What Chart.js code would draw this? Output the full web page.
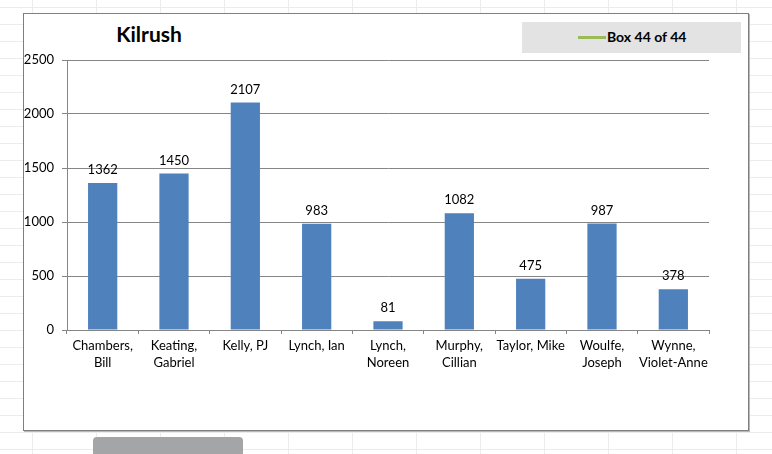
<!DOCTYPE html>
<html>
<head>
<meta charset="utf-8">
<script src="https://cdn.jsdelivr.net/npm/chart.js@4"></script>
<style>
  html, body {
    margin: 0;
    padding: 0;
    width: 772px;
    height: 454px;
    overflow: hidden;
    font-family: Lato, "Liberation Sans", sans-serif;
    background-color: #fff;
    background-image:
      linear-gradient(to right, #ececec 1px, transparent 1px),
      linear-gradient(to bottom, #ececec 1px, transparent 1px);
    background-size: 64px 17px;
    background-position: 32px 7px;
  }
  .frame {
    position: absolute;
    left: 23px;
    top: 13px;
    width: 724px;
    height: 416px;
    background: #fff;
    border: 1px solid #7f7f7f;
    box-shadow: 1px 1px 0 #b8b8b8;
  }
  .title {
    position: absolute;
    left: 99px;
    width: 100px;
    top: 20px;
    text-align: center;
    font-weight: bold;
    font-size: 21px;
    line-height: 28px;
    color: #000;
  }
  .legend {
    position: absolute;
    left: 522px;
    top: 22px;
    width: 219px;
    height: 31px;
    background: #e3e3e3;
  }
  .legend .swatch {
    position: absolute;
    left: 56px;
    top: 14px;
    width: 28px;
    height: 3px;
    background: #9bbb59;
  }
  .legend .label {
    position: absolute;
    left: 85px;
    top: 6px;
    font-weight: bold;
    font-size: 14px;
    line-height: 18px;
    color: #000;
  }
  .button {
    position: absolute;
    left: 93px;
    top: 437px;
    width: 150px;
    height: 24px;
    background: #a3a5a7;
    border-radius: 4px;
  }
  canvas {
    position: absolute;
    left: 0;
    top: 0;
  }
</style>
</head>
<body>
<div class="frame"></div>
<div class="title">Kilrush</div>
<div class="legend"><div class="swatch"></div><div class="label">Box 44 of 44</div></div>
<div class="button"></div>
<canvas id="chart" width="772" height="454"></canvas>
<script>
const CANDIDATES = [
  ["Chambers,", "Bill"],
  ["Keating,", "Gabriel"],
  "Kelly, PJ",
  "Lynch, Ian",
  ["Lynch,", "Noreen"],
  ["Murphy,", "Cillian"],
  "Taylor, Mike",
  ["Woulfe,", "Joseph"],
  ["Wynne,", "Violet-Anne"],
];

const VOTES = [1362, 1450, 2107, 983, 81, 1082, 475, 987, 378];

const Y_TICKS = [0, 500, 1000, 1500, 2000, 2500];

const AXIS_GREY = "#868686";
const BAR_BLUE = "#4f81bd";
const FONT = "Lato, 'Liberation Sans', sans-serif";

Chart.defaults.font.family = FONT;
Chart.defaults.font.size = 13;
Chart.defaults.color = "#000";

// numbers above each bar
const valueLabels = {
  id: "valueLabels",
  afterDatasetsDraw(chart) {
    const ctx = chart.ctx;
    const meta = chart.getDatasetMeta(0);
    ctx.save();
    ctx.font = "13px " + FONT;
    ctx.fillStyle = "#000";
    ctx.textAlign = "center";
    ctx.textBaseline = "middle";
    meta.data.forEach((bar, i) => {
      ctx.fillText(String(VOTES[i]), bar.x, bar.y - 13);
    });
    ctx.restore();
  },
};

new Chart(document.getElementById("chart").getContext("2d"), {
  type: "bar",
  data: {
    labels: CANDIDATES,
    datasets: [
      {
        label: "Box 44 of 44",
        data: VOTES,
        backgroundColor: BAR_BLUE,
        borderWidth: 0,
        categoryPercentage: 1,
        barPercentage: 0.41,
      },
    ],
  },
  options: {
    responsive: false,
    animation: false,
    layout: {
      padding: { top: 60, right: 63, left: 0, bottom: 0 },
    },
    plugins: {
      legend: { display: false },
      title: { display: false },
      tooltip: { enabled: false },
    },
    scales: {
      x: {
        grid: {
          offset: true,
          drawOnChartArea: false,
          drawTicks: true,
          tickLength: 4,
          color: AXIS_GREY,
        },
        border: { color: AXIS_GREY, width: 1 },
        ticks: {
          autoSkip: false,
          maxRotation: 0,
          minRotation: 0,
          padding: 4,
          font: { size: 13, lineHeight: 1.25 },
        },
        afterFit: (scale) => {
          scale.height = 124;
        },
      },
      y: {
        min: 0,
        max: 2500,
        afterBuildTicks: (scale) => {
          scale.ticks = Y_TICKS.map((v) => ({ value: v }));
        },
        grid: {
          color: AXIS_GREY,
          drawTicks: true,
          tickLength: 5,
        },
        border: { color: AXIS_GREY, width: 1 },
        ticks: {
          padding: 8,
          font: { size: 13 },
          callback: (value) => String(value),
        },
        afterFit: (scale) => {
          scale.width = 67;
        },
      },
    },
  },
  plugins: [valueLabels],
});
</script>
</body>
</html>
